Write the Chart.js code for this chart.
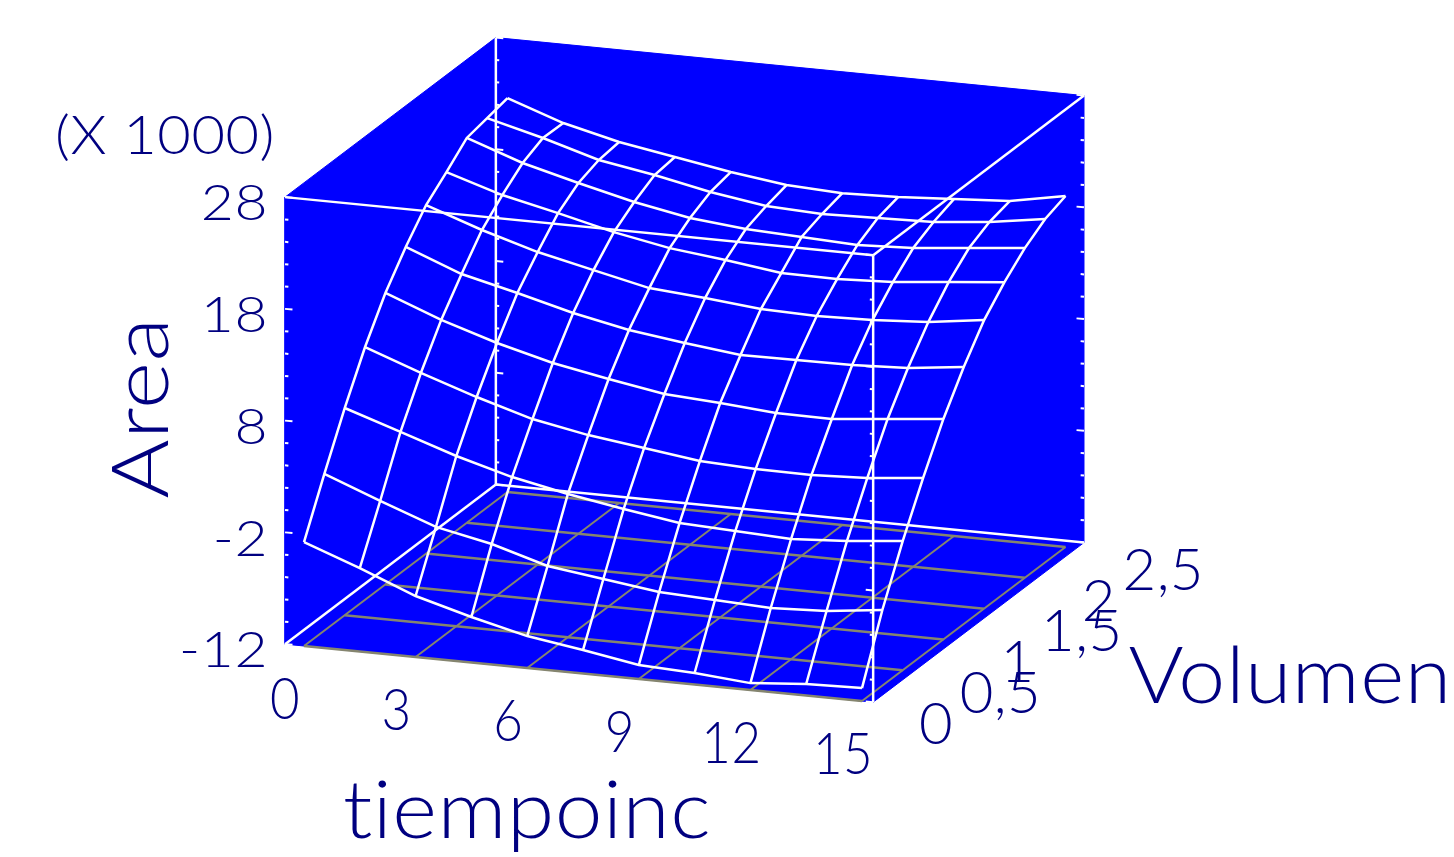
<!DOCTYPE html>
<html>
<head>
<meta charset="utf-8">
<title>Area</title>
<script src="https://cdn.jsdelivr.net/npm/chart.js@4/dist/chart.umd.min.js"></script>
<style>
    html, body { margin: 0; padding: 0; background: #ffffff; }
    canvas { display: block; }
</style>
</head>
<body>
<canvas id="surfaceChart" width="1454" height="857"></canvas>
<script>
// mesh axes
var tiempoinc = [0, 1.5, 3, 4.5, 6, 7.5, 9, 10.5, 12, 13.5, 15];
var volumen = [0, 0.25, 0.5, 0.75, 1, 1.25, 1.5, 1.75, 2, 2.25, 2.5];

// area (x 1000), one array per volumen value
var areaV0 = [-2.70, -4.53, -6.54, -7.93, -9.14, -9.90, -10.75, -10.97, -11.38, -10.97, -10.84];
var areaV1 = [2.02, 0.09, -1.74, -2.77, -4.25, -4.92, -5.59, -5.81, -6.04, -5.81, -5.23];
var areaV2 = [6.54, 4.89, 3.23, 1.84, 0.82, -0.03, -0.80, -1.02, -1.24, -0.93, -0.44];
var areaV3 = [10.62, 8.79, 7.13, 5.65, 4.71, 4.04, 3.37, 3.15, 3.10, 3.33, 3.82];
var areaV4 = [14.08, 12.16, 10.59, 9.29, 8.35, 7.50, 7.19, 6.79, 6.74, 7.24, 7.73];
var areaV5 = [16.82, 14.89, 13.68, 12.39, 11.36, 10.69, 10.10, 10.15, 10.19, 10.42, 11.00];
var areaV6 = [19.19, 17.45, 15.97, 14.85, 13.73, 13.33, 12.84, 12.71, 12.84, 13.15, 13.82];
var areaV7 = [20.76, 19.20, 18.08, 16.87, 15.93, 15.35, 14.68, 14.64, 14.86, 15.35, 15.84];
var areaV8 = [22.44, 20.69, 19.39, 18.19, 17.25, 16.75, 16.53, 16.31, 16.53, 17.02, 17.51];
var areaV9 = [22.84, 21.55, 20.07, 19.22, 18.19, 17.43, 17.21, 17.34, 17.48, 17.97, 18.73];
var areaV10 = [23.25, 21.51, 20.30, 19.45, 18.60, 17.93, 17.70, 17.84, 18.15, 18.47, 19.41];
var areaRows = [areaV0, areaV1, areaV2, areaV3, areaV4, areaV5, areaV6, areaV7, areaV8, areaV9, areaV10];

// tick labels
var tiempoTicks = [0, 3, 6, 9, 12, 15];
var volumenTicks = [0, 0.5, 1, 1.5, 2, 2.5];
var areaTicks = [-12, -2, 8, 18, 28];

// box limits
var tMin = -0.51, tMax = 15.3;
var vMin = 0, vMax = 2.59;
var zMin = -12, zMax = 28;

// oblique projection of the 3d axes onto the flat chart scales
function project(t, v, z) {
    return {
        x: 304 + 37.2 * t + 81.4 * v,
        y: 646 + 3.67 * t - 61.6 * v - 11.175 * (z - zMin)
    };
}

function line(points, color, width, order) {
    return {
        data: points,
        showLine: true,
        fill: false,
        borderColor: color,
        borderWidth: width,
        pointRadius: 0,
        order: order
    };
}

var datasets = [];

// blue box silhouette
var silhouette = [
    project(tMin, vMin, zMin), project(tMax, vMin, zMin), project(tMax, vMax, zMin),
    project(tMax, vMax, zMax), project(tMin, vMax, zMax), project(tMin, vMin, zMax),
    project(tMin, vMin, zMin)
];
var boxSet = line(silhouette, '#0000ff', 1, 100);
boxSet.fill = 'shape';
boxSet.backgroundColor = '#0000ff';
datasets.push(boxSet);

// floor grid
tiempoTicks.forEach(function(t) {
    datasets.push(line([project(t, 0, zMin), project(t, 2.5, zMin)], '#85856f', 2, 60));
});
volumenTicks.forEach(function(v) {
    datasets.push(line([project(0, v, zMin), project(15, v, zMin)], '#85856f', 2.5, 60));
});

// box edges
var edges = [
    [[tMin, vMin, zMax], [tMax, vMin, zMax]],
    [[tMax, vMin, zMax], [tMax, vMax, zMax]],
    [[tMin, vMax, zMin], [tMin, vMax, zMax]],
    [[tMax, vMin, zMin], [tMax, vMin, zMax]],
    [[tMin, vMin, zMin], [tMin, vMax, zMin]],
    [[tMin, vMax, zMin], [tMax, vMax, zMin]]
];
edges.forEach(function(e) {
    datasets.push(line([project(e[0][0], e[0][1], e[0][2]), project(e[1][0], e[1][1], e[1][2])], '#ffffff', 2.5, 40));
});

// z ticks on the four upright edges, every 2 with a long one every 10
var uprights = [[tMin, vMin, 1], [tMin, vMax, 1], [tMax, vMin, -1], [tMax, vMax, -1]];
uprights.forEach(function(u) {
    for (var z = zMin; z <= zMax; z += 2) {
        var len = (z - zMin) % 10 === 0 ? 0.2 : 0.09;
        datasets.push(line([project(u[0], u[1], z), project(u[0] + u[2] * len, u[1], z)], '#ffffff', 2, 40));
    }
});

// wire mesh
areaRows.forEach(function(row, j) {
    datasets.push(line(row.map(function(z, i) {
        return project(tiempoinc[i], volumen[j], z);
    }), '#ffffff', 2.5, 10));
});
tiempoinc.forEach(function(t, i) {
    datasets.push(line(volumen.map(function(v, j) {
        return project(t, v, areaRows[j][i]);
    }), '#ffffff', 2.5, 10));
});

// axis text sits on the same scales as the marks
var axisText = {
    id: 'axisText',
    afterDatasetsDraw: function(chart) {
        var ctx = chart.ctx;
        var sx = chart.scales.x, sy = chart.scales.y;

        function text(str, x, y, size, stretch, align, rotate) {
            ctx.save();
            ctx.translate(x, y);
            if (rotate) ctx.rotate(rotate);
            ctx.scale(stretch, 1);
            // letterSpacing keeps the "ti" in tiempoinc from turning into a ligature
            ctx.letterSpacing = '0.5px';
            ctx.font = '300 ' + size + 'px Lato, "Open Sans", sans-serif';
            ctx.fillStyle = '#000080';
            ctx.textAlign = align;
            ctx.textBaseline = 'middle';
            ctx.fillText(str, 0, 0);
            ctx.restore();
        }

        areaTicks.forEach(function(z) {
            var p = project(tMin, vMin, z);
            text(String(z), sx.getPixelForValue(p.x) - 17, sy.getPixelForValue(p.y) + 7, 50, 1.14, 'right');
        });
        tiempoTicks.forEach(function(t) {
            var p = project(t, 0, zMin);
            text(String(t), sx.getPixelForValue(p.x) - 19, sy.getPixelForValue(p.y + 54), 58, 0.88, 'center');
        });
        volumenTicks.forEach(function(v) {
            var p = project(15, v, zMin);
            text(String(v).replace('.', ','), sx.getPixelForValue(p.x + 57), sy.getPixelForValue(p.y + 24), 58, 1, 'left');
        });

        text('(X 1000)', sx.getPixelForValue(165), sy.getPixelForValue(137), 54, 1.07, 'center');
        text('Area', sx.getPixelForValue(143), sy.getPixelForValue(408), 78, 1.16, 'center', -Math.PI / 2);
        text('tiempoinc', sx.getPixelForValue(527), sy.getPixelForValue(812), 80, 1.07, 'center');
        text('Volumen', sx.getPixelForValue(1290), sy.getPixelForValue(678), 78, 1.08, 'center');
    }
};

var ctx = document.getElementById('surfaceChart').getContext('2d');
var chart = new Chart(ctx, {
    type: 'scatter',
    data: { datasets: datasets },
    options: {
        responsive: false,
        animation: false,
        layout: { padding: 0 },
        plugins: { legend: { display: false }, tooltip: { enabled: false }, title: { display: false } },
        scales: {
            x: { type: 'linear', min: 0, max: 1454, display: false },
            y: { type: 'linear', min: 0, max: 857, reverse: true, display: false }
        }
    },
    plugins: [axisText]
});
</script>
</body>
</html>
